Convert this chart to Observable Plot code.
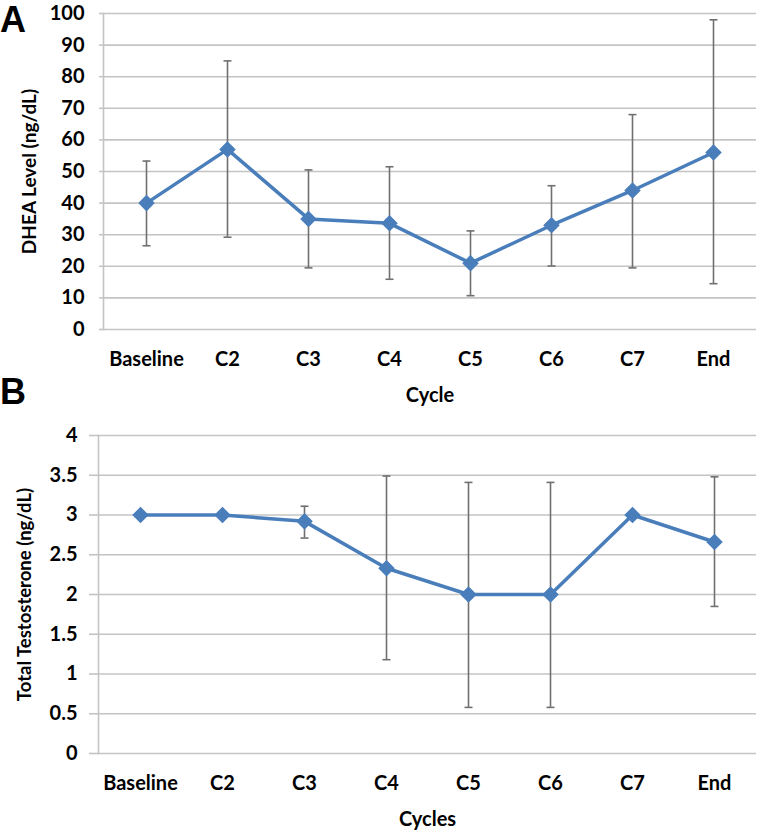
<!DOCTYPE html>
<html>
<head>
<meta charset="utf-8">
<script src="https://cdn.jsdelivr.net/npm/d3@7"></script>
<script src="https://cdn.jsdelivr.net/npm/@observablehq/plot@0.6"></script>
<style>
  body { margin: 0; background: #fff; }
  #wrap { position: relative; width: 761px; height: 835px; font-family: Lato, "Liberation Sans", sans-serif; }
  .panel-letter { position: absolute; left: 0; font: bold 36px "Liberation Sans", Arial, sans-serif; line-height: 1; }
  #pa { position: absolute; left: 0; top: 0; }
  #pb { position: absolute; left: 0; top: 420px; }
  svg { overflow: visible; }
</style>
</head>
<body>
<div id="wrap">
  <div id="pa"></div>
  <div id="pb"></div>
  <div class="panel-letter" style="top:2px">A</div>
  <div class="panel-letter" style="top:374px">B</div>
</div>
<script>
const categories = ["Baseline", "C2", "C3", "C4", "C5", "C6", "C7", "End"];

const dheaMean = [40, 57, 35, 33.6, 21, 33, 44, 56];
const dheaLow  = [26.5, 29.2, 19.5, 15.9, 10.7, 20.1, 19.5, 14.5];
const dheaHigh = [53.3, 85, 50.5, 51.5, 31.2, 45.5, 68, 98];
const dheaTicks = [0, 10, 20, 30, 40, 50, 60, 70, 80, 90, 100];

const testoMean = [3, 3, 2.92, 2.33, 2, 2, 3, 2.66];
const testoLow  = [null, null, 2.71, 1.18, 0.58, 0.58, null, 1.85];
const testoHigh = [null, null, 3.11, 3.49, 3.41, 3.41, null, 3.48];
const testoTicks = [0, 0.5, 1, 1.5, 2, 2.5, 3, 3.5, 4];

const lineColor = "#4a7ebb";
const errColor = "#707070";
const gridColor = "#c4c4c4";

const capSymbol = {
  draw(context, size) {
    const r = Math.sqrt(size) / 2;
    context.moveTo(-r, 0);
    context.lineTo(r, 0);
  }
};

function panel({mean, low, high, ticks, domain, height, marginTop, marginBottom, marginLeft, marginRight, yLabel, xLabel, yTitleDx, yTitleSize, tickSize, tickPadding, fmt}) {
  const rows = categories.map((c, i) => ({cat: c, mean: mean[i], low: low[i], high: high[i]}));
  const bars = rows.filter(d => d.low != null);
  return Plot.plot({
    width: 761,
    height,
    marginTop, marginBottom, marginLeft, marginRight,
    style: {fontFamily: "Lato, sans-serif", fontWeight: "bold", fontSize: "20px", color: "#000", background: "white", overflow: "visible"},
    x: {type: "point", domain: categories, padding: 0.5},
    y: {domain, ticks},
    marks: [
      Plot.gridY(ticks, {stroke: gridColor, strokeOpacity: 1, strokeWidth: 1.6}),
      Plot.frame({anchor: "left", stroke: gridColor, strokeWidth: 1.6}),
      Plot.axisY(ticks, {tickSize, tickPadding, stroke: gridColor, strokeWidth: 1.6, tickFormat: fmt, label: null, fill: "#000"}),
      Plot.axisX({tickSize: 0, tickPadding: 22, label: null, fill: "#000"}),
      Plot.ruleX(bars, {x: "cat", y1: "low", y2: "high", stroke: errColor, strokeWidth: 1.6}),
      Plot.dot(bars, {x: "cat", y: "low", symbol: capSymbol, r: 4.5, stroke: errColor, strokeWidth: 1.6}),
      Plot.dot(bars, {x: "cat", y: "high", symbol: capSymbol, r: 4.5, stroke: errColor, strokeWidth: 1.6}),
      Plot.line(rows, {x: "cat", y: "mean", stroke: lineColor, strokeWidth: 3.5}),
      Plot.dot(rows, {x: "cat", y: "mean", symbol: "diamond2", r: 6.5, fill: lineColor, stroke: lineColor}),
      Plot.text([yLabel], {frameAnchor: "left", dx: yTitleDx, rotate: -90, text: d => d, fontSize: yTitleSize, fontWeight: 700, fill: "#000", textAnchor: "middle", lineAnchor: "middle"}),
      Plot.text([xLabel], {frameAnchor: "bottom", dy: 66, text: d => d, fontSize: 20, fontWeight: 700, fill: "#000", textAnchor: "middle", lineAnchor: "middle"})
    ]
  });
}

document.getElementById("pa").append(panel({
  mean: dheaMean, low: dheaLow, high: dheaHigh, ticks: dheaTicks, domain: [0, 100],
  height: 420, marginTop: 13, marginBottom: 91, marginLeft: 103, marginRight: 5,
  yLabel: "DHEA Level (ng/dL)", xLabel: "Cycle", yTitleDx: -74, yTitleSize: 19,
  tickSize: 4, tickPadding: 15, fmt: d => String(d)
}));

document.getElementById("pb").append(panel({
  mean: testoMean, low: testoLow, high: testoHigh, ticks: testoTicks, domain: [0, 4],
  height: 415, marginTop: 15, marginBottom: 82, marginLeft: 98, marginRight: 5,
  yLabel: "Total Testosterone (ng/dL)", xLabel: "Cycles", yTitleDx: -73, yTitleSize: 18.5,
  tickSize: 9, tickPadding: 12, fmt: d => String(d)
}));
</script>
</body>
</html>
